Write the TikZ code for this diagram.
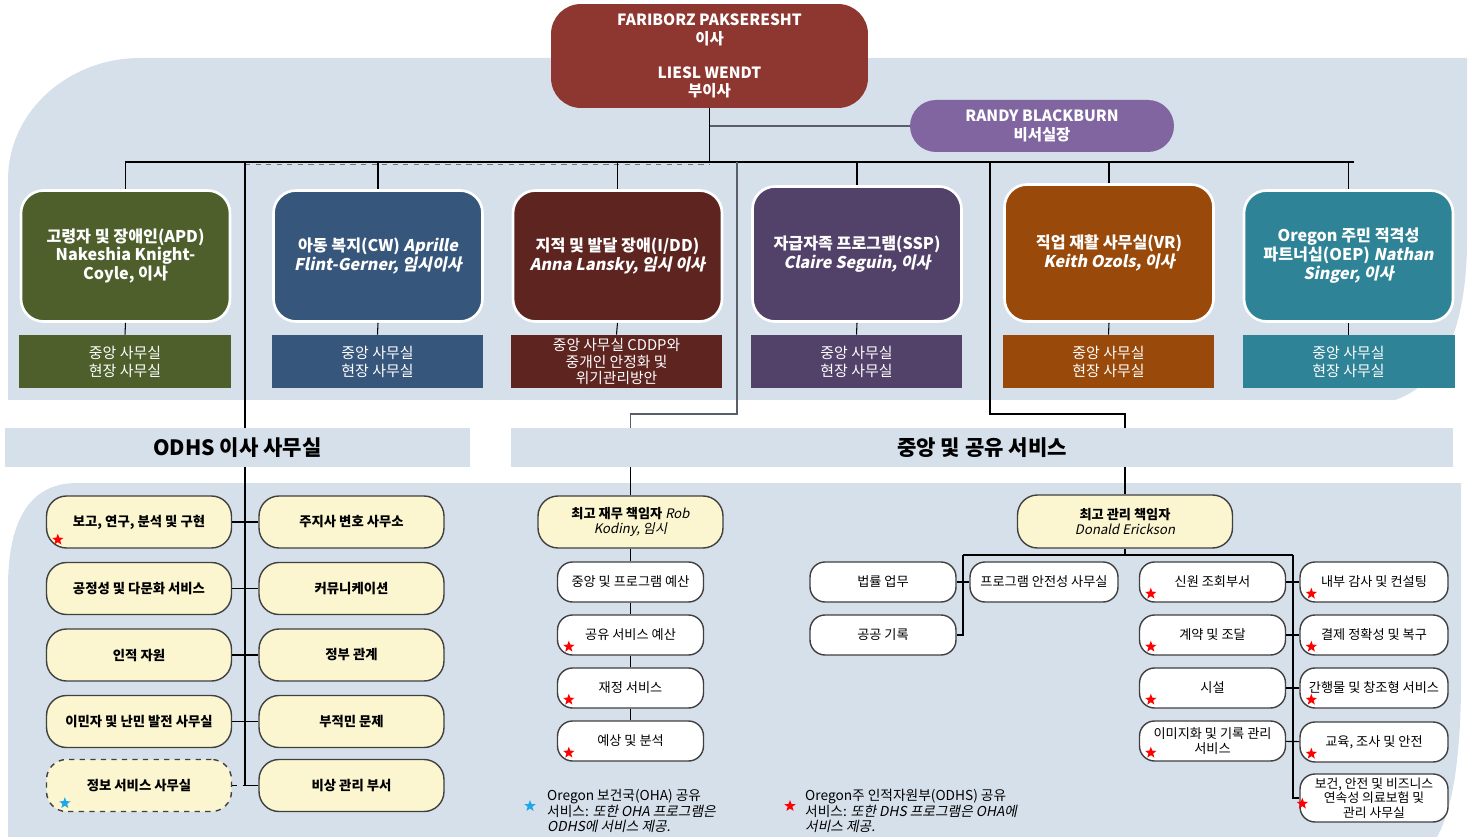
\documentclass[tikz,border=0pt]{standalone}
\usepackage{fontspec}
\setmainfont{Noto Sans CJK KR}[
    ItalicFont={Noto Sans CJK KR},
    ItalicFeatures={FakeSlant=0.2},
    BoldItalicFont={Noto Sans CJK KR/B},
    BoldItalicFeatures={FakeSlant=0.2},
]
\usepackage{tikz}
\usetikzlibrary{
    shapes.geometric,
    calc,
}
\definecolor{bgblue}{HTML}{D6E0EB}
\definecolor{directorred}{HTML}{8E3731}
\definecolor{chiefpurple}{HTML}{8065A0}
\definecolor{apdgreen}{HTML}{4E5F2B}
\definecolor{cwblue}{HTML}{37567B}
\definecolor{iddred}{HTML}{5E2420}
\definecolor{ssppurple}{HTML}{524169}
\definecolor{vrorange}{HTML}{994A0A}
\definecolor{oepteal}{HTML}{2F8396}
\definecolor{paleyellow}{HTML}{FBF6D0}
\definecolor{starblue}{HTML}{1EA7E8}
\definecolor{linegray}{HTML}{5A5E66}
\tikzset{
    leader/.style = {
        rectangle,
        rounded corners=0.6cm,
        minimum width=6.34cm,
        minimum height=2.08cm,
        align=center,
        text=white,
        font=\bfseries\fontsize{8.8}{10.4}\selectfont,
    },
    division/.style = {
        rectangle,
        rounded corners=0.45cm,
        minimum width=4.18cm,
        minimum height=2.62cm,
        align=center,
        text=white,
        draw=white,
        line width=1.5pt,
        font=\bfseries\fontsize{9.2}{10.8}\selectfont,
    },
    office/.style = {
        rectangle,
        minimum width=4.24cm,
        minimum height=1.06cm,
        inner sep=0pt,
        align=center,
        text=white,
        font=\fontsize{8.5}{10.2}\selectfont,
    },
    band/.style = {
        rectangle,
        fill=bgblue,
        minimum height=0.78cm,
        font=\bfseries\fontsize{12}{14}\selectfont,
    },
    unit/.style = {
        rectangle,
        rounded corners=0.4cm,
        minimum width=3.7cm,
        minimum height=1.04cm,
        align=center,
        fill=paleyellow,
        draw=black!75,
        thick,
        font=\bfseries\fontsize{7.6}{9.2}\selectfont,
    },
    service/.style = {
        rectangle,
        rounded corners=0.3cm,
        minimum width=2.92cm,
        minimum height=0.8cm,
        inner sep=1pt,
        align=center,
        fill=white,
        draw=black!75,
        thick,
        font=\fontsize{7.5}{8.8}\selectfont,
    },
    redstar/.style = {
        star,
        star points=5,
        star point ratio=2.4,
        minimum size=0.24cm,
        inner sep=0pt,
        fill=red,
    },
    bluestar/.style = {
        redstar,
        fill=starblue,
    },
    legend/.style = {
        anchor=west,
        align=left,
        font=\fontsize{7.8}{9}\selectfont,
    },
}
\tikzstyle{link} = [
    black,
    line width=0.6pt,
]

\begin{document}
\begin{tikzpicture}[x=0.02cm, y=-0.02cm]
        \useasboundingbox (0,0) rectangle (1473,837);

        \fill [bgblue] (8,400) -- (8,180) .. controls (8,110) and (70,58) .. (140,58)
            -- (1467,58) -- (1467,240) .. controls (1467,330) and (1440,385) .. (1395,400) -- cycle;
        \fill [bgblue] (8,837) -- (8,587) .. controls (8,520) and (30,483) .. (77,483)
            -- (1461,483) -- (1461,680) .. controls (1461,760) and (1452,810) .. (1437,837) -- cycle;

        \node [leader, fill=directorred] (director) at (709.5,56)
        {FARIBORZ PAKSERESHT\\이사\\[9pt]LIESL WENDT\\부이사};

        \node [leader, fill=chiefpurple, rounded corners=0.52cm, minimum width=5.28cm, minimum height=1.04cm] (chief) at (1042,126)
        {RANDY BLACKBURN\\비서실장};

        \node [division, fill=apdgreen] (apd) at (125.5,256)
        {고령자 및 장애인(APD)\\Nakeshia Knight-\\Coyle, 이사};

        \node [division, fill=cwblue] (cw) at (378,256)
        {아동 복지(CW) \textit{Aprille}\\\textit{Flint-Gerner, 임시이사}};

        \node [division, fill=iddred] (idd) at (617.5,256)
        {지적 및 발달 장애(I/DD)\\\textit{Anna Lansky, 임시 이사}};

        \node [division, fill=ssppurple, minimum height=2.7cm] (ssp) at (857,254)
        {자급자족 프로그램(SSP)\\\textit{Claire Seguin, 이사}};

        \node [division, fill=vrorange, minimum height=2.74cm] (vr) at (1109,253)
        {직업 재활 사무실(VR)\\\textit{Keith Ozols, 이사}};

        \node [division, fill=oepteal] (oep) at (1348.5,256)
        {Oregon 주민 적격성\\파트너십(OEP) \textit{Nathan}\\\textit{Singer, 이사}};

        \node [office, fill=apdgreen] (apdoff) at (125,361.5)
        {중앙 사무실\\현장 사무실};

        \node [office, fill=cwblue] (cwoff) at (377.5,361.5)
        {중앙 사무실\\현장 사무실};

        \node [office, fill=iddred, font=\fontsize{8.4}{9.4}\selectfont] (iddoff) at (616.5,361.5)
        {중앙 사무실 CDDP와\\중개인 안정화 및\\위기관리방안};

        \node [office, fill=ssppurple] (sspoff) at (856.5,361.5)
        {중앙 사무실\\현장 사무실};

        \node [office, fill=vrorange] (vroff) at (1108.5,361.5)
        {중앙 사무실\\현장 사무실};

        \node [office, fill=oepteal] (oepoff) at (1348.5,361.5)
        {중앙 사무실\\현장 사무실};

        \coordinate (busL) at (125,162);
        \coordinate (busR) at (1354,162);
        \coordinate (odhstap) at (245,162);
        \coordinate (centraltap) at (737,162);
        \coordinate (sharedtap) at (990,162);

        \draw [link] (busL) -- (busR);
        \draw [link, dashed, black!55] ([yshift=-0.05cm]odhstap) -- ([yshift=-0.05cm]director.south |- busL);
        \draw [link] (director.south) -- (director.south |- busL);
        \draw [linegray, line width=1.2pt] (director.south |- chief.west) -- (chief.west);
        \foreach \d in {apd, cw, idd, ssp, vr, oep} {
            \draw [link] (\d.north |- busL) -- (\d.north);
            \draw [link] (\d.south) -- (\d off.north);
        }

        \node [band, minimum width=9.3cm] (odhs) at (237.5,447.5)
        {ODHS 이사 사무실};

        \node [band, minimum width=18.84cm] (shared) at (982,447.5)
        {중앙 및 공유 서비스};

        \node [unit] (rep) at (139,522)
        {보고, 연구, 분석 및 구현};

        \node [unit] (equity) at (139,588.5)
        {공정성 및 다문화 서비스};

        \node [unit] (hr) at (139,655)
        {인적 자원};

        \node [unit] (refugee) at (139,721.5)
        {이민자 및 난민 발전 사무실};

        \node [unit, dashed] (info) at (139,785.5)
        {정보 서비스 사무실};

        \node [unit] (counsel) at (351.5,522)
        {주지사 변호 사무소};

        \node [unit] (comm) at (351.5,588.5)
        {커뮤니케이션};

        \node [unit] (govrel) at (351.5,655)
        {정부 관계};

        \node [unit] (tribal) at (351.5,721.5)
        {부적민 문제};

        \node [unit] (emerg) at (351.5,785.5)
        {비상 관리 부서};

        \node [unit, font=\fontsize{7.5}{9}\selectfont] (cfo) at (630.5,522)
        {\textbf{최고 재무 책임자} \textit{Rob}\\\textit{Kodiny, 임시}};

        \node [service] (cbudget) at (630.5,582)
        {중앙 및 프로그램 예산};

        \node [service] (sbudget) at (630.5,635)
        {공유 서비스 예산};

        \node [service] (finsvc) at (630.5,688)
        {재정 서비스};

        \node [service] (forecast) at (630.5,741)
        {예상 및 분석};

        \node [unit, minimum width=4.3cm, minimum height=1.06cm, font=\fontsize{7.5}{9}\selectfont] (cao) at (1125,521.5)
        {\textbf{최고 관리 책임자}\\\textit{Donald Erickson}};

        \node [service] (legal) at (883,582)
        {법률 업무};

        \node [service] (records) at (883,635)
        {공공 기록};

        \node [service, minimum width=2.96cm] (safety) at (1044,582)
        {프로그램 안전성 사무실};

        \node [service] (background) at (1212.5,582)
        {신원 조회부서};

        \node [service] (contracts) at (1212.5,635)
        {계약 및 조달};

        \node [service] (facilities) at (1212.5,688)
        {시설};

        \node [service] (imaging) at (1212.5,741)
        {이미지화 및 기록 관리\\서비스};

        \node [service, minimum width=2.96cm] (audit) at (1374,582)
        {내부 감사 및 컨설팅};

        \node [service, minimum width=2.96cm] (payment) at (1374,635)
        {결제 정확성 및 복구};

        \node [service, minimum width=2.96cm] (publish) at (1374,688)
        {간행물 및 창조형 서비스};

        \node [service, minimum width=2.96cm] (training) at (1374,742)
        {교육, 조사 및 안전};

        \node [service, minimum width=2.96cm, minimum height=0.96cm, font=\fontsize{7.3}{8.4}\selectfont] (health) at (1374,798)
        {보건, 안전 및 비즈니스\\연속성 의료보험 및\\관리 사무실};

        \coordinate (adminL) at (963,555);
        \coordinate (adminR) at (1293,555);

        \draw [link] (odhstap) -- (odhstap |- odhs.north);
        \draw [link] (odhstap |- odhs.south) -- (odhstap |- info.east);
        \draw [link] (rep) -- (counsel);
        \draw [link] (equity) -- (comm);
        \draw [link] (hr) -- (govrel);
        \draw [link] (refugee) -- (tribal);
        \draw [link, dashed] (info.east) -- (odhstap |- info.east);
        \draw [link] (odhstap |- emerg.west) -- (emerg.west);

        \draw [link, linegray] (centraltap) -- ++(0,252) -| (cfo.north |- shared.north);
        \draw [link] (shared.south -| cfo.north) -- (cfo.north);
        \draw [link] (cfo) -- (cbudget);
        \draw [link] (cbudget) -- (sbudget);
        \draw [link] (sbudget) -- (finsvc);
        \draw [link] (finsvc) -- (forecast);

        \draw [link] (sharedtap) -- ++(0,252) -| (cao.north |- shared.north);
        \draw [link] (shared.south -| cao.north) -- (cao.north);
        \draw [link] (cao.south) -- (cao.south |- adminL);
        \draw [link] (adminL) -- (adminR);
        \draw [link] (adminL) |- (records.east);
        \draw [link] (legal) -- (safety);
        \draw [link] (adminR) |- (health.west);
        \draw [link] (background) -- (audit);
        \draw [link] (contracts) -- (payment);
        \draw [link] (facilities) -- (publish);
        \draw [link] (imaging) -- (training);

        \foreach \u in {rep, sbudget, finsvc, forecast, background, contracts, facilities, imaging, audit, payment, publish, training}
            \node [redstar] at ($(\u.south west)+(12,-9)$) {};
        \node [redstar] at ($(health.south west)+(3,-19)$) {};
        \node [bluestar] at ($(info.south west)+(19,-9)$) {};

        \node [bluestar] (ohastar) at (530,806) {};
        \node [legend] (ohanote) at (541,811)
        {Oregon 보건국(OHA) 공유\\서비스: \textit{또한 OHA 프로그램은}\\\textit{ODHS에 서비스 제공.}};

        \node [redstar] (odhsstar) at (790,806) {};
        \node [legend] (odhsnote) at (799,811)
        {Oregon주 인적자원부(ODHS) 공유\\서비스: \textit{또한 DHS 프로그램은 OHA에}\\\textit{서비스 제공.}};

    \end{tikzpicture}
\end{document}
